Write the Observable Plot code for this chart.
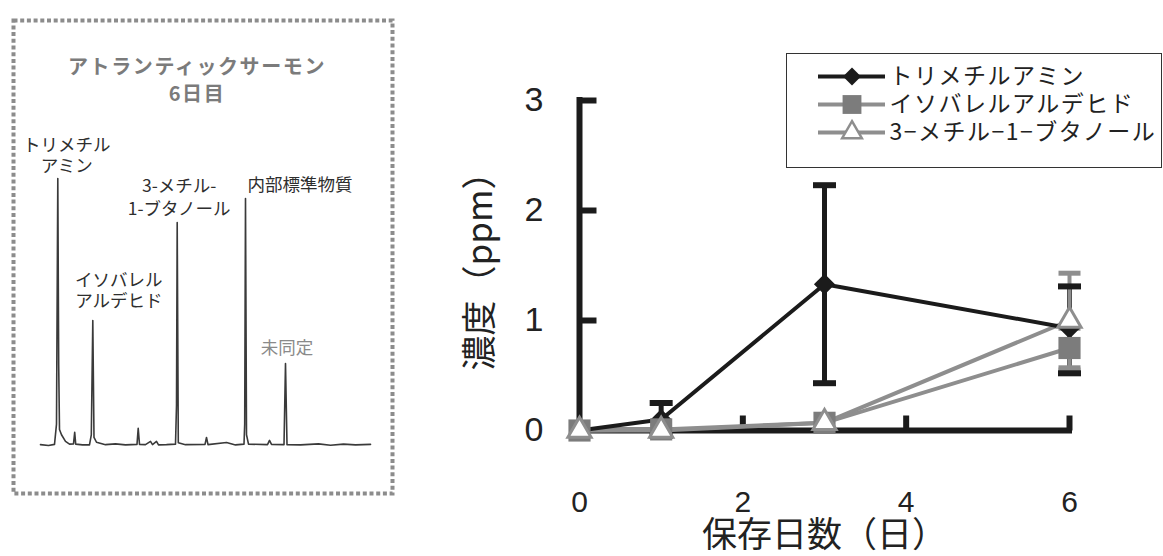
<!DOCTYPE html>
<html><head><meta charset="utf-8">
<script src="https://cdn.jsdelivr.net/npm/d3@7"></script>
<script src="https://cdn.jsdelivr.net/npm/@observablehq/plot@0.6"></script>
<style>
html,body{margin:0;padding:0;background:#fff;}
#wrap{position:relative;width:1163px;height:556px;overflow:hidden;background:#fff;}
#wrap > *{position:absolute;}
</style></head><body><div id="wrap"></div>
<script>
// ---------- Left panel: chromatogram (day 6, Atlantic salmon) ----------
const chromTitle = "アトランティックサーモン\n6日目";
const traceTime   = [0, 0.8, 1.4, 1.6, 1.73, 1.82, 1.9, 2.1, 2.5, 2.9, 3.3, 3.42, 3.52, 4.2, 4.9, 5.08, 5.23, 5.35, 5.6, 6.5, 7.5, 8.5, 9.65, 9.77, 9.9, 10.5, 11.0, 11.2, 11.6, 11.8, 12.6, 13.5, 13.6, 13.67, 13.78, 14.5, 16.45, 16.6, 16.75, 18.6, 19.5, 20.35, 20.42, 20.5, 20.6, 20.8, 22.7, 22.9, 23.1, 24.35, 24.5, 24.65, 26, 27.8, 29, 30.3, 31.5, 33];
const traceSignal = [0.3, 0, 0.4, 8, 100, 30, 6, 4, 1.5, 0.5, 0.6, 4.9, 0.5, 0.2, 0.2, 4, 46.8, 3, 1.2, 0.3, 0.6, 0.2, 0.4, 6.4, 0.4, 0.3, 1.5, 0.3, 1.5, 0.2, 0.3, 0.5, 15, 83.5, 1, 0.3, 0.4, 3, 0.3, 1.1, 0.2, 0.5, 8, 92.5, 4, 0.5, 0.3, 1.9, 0.4, 0.3, 30.7, 0.3, 0.2, 0.6, 0.1, 0.5, 0.2, 0.4];
const peakNames  = ["トリメチル\nアミン", "イソバレル\nアルデヒド", "3-メチル-\n1-ブタノール", "内部標準物質", "未同定"];
const peakTime   = [1.73, 5.23, 13.67, 20.5, 24.5];
const peakHeight = [100, 46.8, 83.5, 92.5, 30.7];

// ---------- Right panel: concentration vs storage days ----------
const seriesNames = ["トリメチルアミン", "イソバレルアルデヒド", "3−メチル−1−ブタノール"];
const days = [0, 1, 3, 6];
const tmaMean = [0, 0.10, 1.33, 0.93];
const tmaLo   = [0, -0.05, 0.43, 0.52];
const tmaHi   = [0, 0.25, 2.23, 1.31];
const ivaMean = [0, 0.01, 0.07, 0.75];
const ivaLo   = [0, 0.01, 0.07, 0.57];
const ivaHi   = [0, 0.01, 0.07, 0.93];
const mbMean  = [0, 0.00, 0.07, 1.00];
const mbLo    = [0, 0.00, 0.07, 0.55];
const mbHi    = [0, 0.00, 0.07, 1.43];
const xTicks = [0, 2, 4, 6];
const yTicks = [0, 1, 2, 3];
const xLabel = "保存日数（日）";
const yLabel = "濃度（ppm）";

// ---------- styles ----------
const BLACK = "#1b1b1b", GRAY = "#8e8e8e", SQFILL = "#7c7c7c";
const seriesStroke = [BLACK, GRAY, GRAY];
const seriesFill = [BLACK, SQFILL, "#ffffff"];
const seriesSymbol = ["diamond2", "square", "triangle"];
const seriesR = [9.5, 12.5, 8.6];
const jp = "'Noto Sans CJK JP', 'Noto Sans', sans-serif";
const lat = "'Liberation Sans', Arial, sans-serif";

// custom symbols (stroke-only line shapes)
const tickRight = {draw(c, s) { const l = Math.sqrt(s / Math.PI); c.moveTo(0, 0); c.lineTo(l, 0); }};
const tickUp    = {draw(c, s) { const l = Math.sqrt(s / Math.PI); c.moveTo(0, 0); c.lineTo(0, -l); }};
const capSym    = {draw(c, s) { const l = Math.sqrt(s / Math.PI); c.moveTo(-l, 0); c.lineTo(l, 0); }};

const wrap = document.getElementById("wrap");

// ===== chromatogram =====
const trace = traceTime.map((t, i) => ({t, s: traceSignal[i]}));
const peaks = peakNames.map((name, i) => ({name, t: peakTime[i], h: peakHeight[i]}));
const labelStyle = [
  {dx: 9, dy: -7, textAnchor: "middle", lineHeight: 1.17, fill: "#2e2e2e"},
  {dx: 26, dy: -14, textAnchor: "middle", lineHeight: 1.17, fill: "#2e2e2e"},
  {dx: 2, dy: -8, textAnchor: "middle", lineHeight: 1.3, fill: "#2e2e2e"},
  {dx: 2, dy: -8, textAnchor: "start", lineHeight: 1.17, fill: "#2e2e2e"},
  {dx: 1.5, dy: -10, textAnchor: "middle", lineHeight: 1.17, fill: "#8a8a8a"}
];

const chrom = Plot.plot({
  width: 405, height: 500,
  marginLeft: 13, marginRight: 13, marginTop: 20, marginBottom: 7,
  x: {domain: [-2.7, 35.2], axis: null},
  y: {domain: [-18, 159.2], axis: null},
  style: {background: "transparent", fontFamily: jp},
  marks: [
    Plot.frame({stroke: "#8c8c8c", strokeWidth: 4, strokeDasharray: "4 2.7"}),
    Plot.line(trace, {x: "t", y: "s", stroke: "#3a3a3a", strokeWidth: 1.6}),
    Plot.text([chromTitle], {frameAnchor: "top", text: d => d, dx: -6, dy: 58.5, lineAnchor: "middle",
      fontSize: 20, fontWeight: "bold", fill: "#7b7b7b", lineHeight: 1.35}),
    ...peaks.map((p, i) => Plot.text([p], {x: "t", y: "h", text: "name", lineAnchor: "bottom",
      fontSize: 17.5, ...labelStyle[i]}))
  ]
});
chrom.style.left = "0px"; chrom.style.top = "0px";
chrom.querySelectorAll("text").forEach(t => {
  if (t.textContent.includes("サーモン")) t.style.letterSpacing = "1.6px";
});
wrap.appendChild(chrom);

// ===== line chart =====
const means = [tmaMean, ivaMean, mbMean], los = [tmaLo, ivaLo, mbLo], his = [tmaHi, ivaHi, mbHi];
const rows = [];
seriesNames.forEach((s, k) => days.forEach((d, i) => rows.push({series: s, k, day: d, mean: means[k][i], lo: los[k][i], hi: his[k][i]})));
const bySeries = k => rows.filter(r => r.k === k);
const withErr = k => rows.filter(r => r.k === k && r.hi > r.mean);

const chart = Plot.plot({
  width: 723, height: 556,
  marginLeft: 139, marginRight: 94, marginTop: 100, marginBottom: 126,
  x: {domain: [xTicks[0], xTicks[xTicks.length - 1]], axis: null, label: null},
  y: {domain: [yTicks[0], yTicks[yTicks.length - 1]], axis: null, label: null},
  style: {background: "transparent", fontFamily: jp, color: "#222"},
  marks: [
    Plot.axisY(yTicks, {tickSize: 0, tickPadding: 36, fontSize: 34, fontFamily: lat, label: null, tickFormat: d => String(d)}),
    Plot.axisX(xTicks, {tickSize: 0, tickPadding: 60, fontSize: 30, fontFamily: lat, label: null, tickFormat: d => String(d)}),
    Plot.text([yLabel], {frameAnchor: "left", text: d => d, rotate: -90, textAnchor: "middle", lineAnchor: "middle", dx: -99, dy: -3, fontSize: 35, fill: "#222"}),
    Plot.text([xLabel], {frameAnchor: "bottom", text: d => d, textAnchor: "middle", dy: 105, lineAnchor: "middle", fontSize: 35, fill: "#222"}),
    // axes lines and inward ticks
    Plot.ruleX([xTicks[0]], {x: d => d, y1: yTicks[0], y2: yTicks[yTicks.length - 1], stroke: BLACK, strokeWidth: 6, strokeLinecap: "square"}),
    Plot.ruleY([yTicks[0]], {y: d => d, x1: xTicks[0], x2: xTicks[xTicks.length - 1], stroke: BLACK, strokeWidth: 6, strokeLinecap: "square"}),
    Plot.dot(yTicks.slice(1), {x: () => xTicks[0], y: d => d, symbol: tickRight, r: 17, stroke: BLACK, strokeWidth: 6, fill: "none"}),
    Plot.dot(xTicks.slice(1), {x: d => d, y: () => yTicks[0], symbol: tickUp, r: 15, stroke: BLACK, strokeWidth: 6, fill: "none"}),
    // error bars
    Plot.ruleX(withErr(0), {x: "day", y1: "lo", y2: "hi", stroke: BLACK, strokeWidth: 5}),
    Plot.ruleX(withErr(1).concat(withErr(2)), {x: "day", y1: "lo", y2: "hi", stroke: GRAY, strokeWidth: 4}),
    Plot.dot(withErr(1).concat(withErr(2)), {x: "day", y: "hi", symbol: capSym, r: 11, stroke: GRAY, strokeWidth: 5, fill: "none"}),
    Plot.dot(withErr(1).concat(withErr(2)), {x: "day", y: "lo", symbol: capSym, r: 11, stroke: GRAY, strokeWidth: 5, fill: "none"}),
    Plot.dot(withErr(0), {x: "day", y: "hi", symbol: capSym, r: 11.5, stroke: BLACK, strokeWidth: 6, fill: "none"}),
    Plot.dot(withErr(0), {x: "day", y: "lo", symbol: capSym, r: 11.5, stroke: BLACK, strokeWidth: 6, fill: "none"}),
    // lines
    Plot.line(bySeries(2), {x: "day", y: "mean", stroke: GRAY, strokeWidth: 4}),
    Plot.line(bySeries(1), {x: "day", y: "mean", stroke: GRAY, strokeWidth: 4}),
    Plot.line(bySeries(0), {x: "day", y: "mean", stroke: BLACK, strokeWidth: 4}),
    // markers
    Plot.dot(bySeries(0), {x: "day", y: "mean", symbol: seriesSymbol[0], r: seriesR[0], fill: seriesFill[0], stroke: "none"}),
    Plot.dot(bySeries(1), {x: "day", y: "mean", symbol: seriesSymbol[1], r: seriesR[1], fill: seriesFill[1], stroke: "none"}),
    Plot.dot(bySeries(2), {x: "day", y: "mean", symbol: seriesSymbol[2], r: seriesR[2], fill: seriesFill[2], stroke: GRAY, strokeWidth: 3})
  ]
});
chart.style.left = "440px"; chart.style.top = "0px";
wrap.appendChild(chart);

// ===== legend =====
const legendBox = document.createElement("div");
legendBox.style.cssText = "left:786px;top:53px;width:374px;height:113px;border:1.5px solid #333;background:#fff;";
const legend = Plot.plot({
  width: 374, height: 113,
  marginLeft: 31, marginRight: 276, marginTop: 22, marginBottom: 35,
  x: {domain: [0, 1], axis: null},
  y: {domain: seriesNames, type: "point", padding: 0, axis: null},
  style: {background: "transparent", fontFamily: jp, color: "#222", letterSpacing: "1.5px"},
  marks: [
    ...seriesNames.map((s, k) => Plot.ruleY([s], {y: d => d, x1: 0, x2: 1, stroke: seriesStroke[k], strokeWidth: 4})),
    ...seriesNames.map((s, k) => Plot.dot([s], {x: () => 0.5, y: d => d, symbol: seriesSymbol[k], r: seriesR[k] * 0.85,
      fill: seriesFill[k], stroke: k === 2 ? GRAY : "none", strokeWidth: 2.5})),
    Plot.text(seriesNames, {x: () => 1, y: d => d, text: d => d, textAnchor: "start", dx: 4, fontSize: 23, fill: "#222"})
  ]
});
legend.style.position = "absolute"; legend.style.left = "0px"; legend.style.top = "0px";
legendBox.appendChild(legend);
wrap.appendChild(legendBox);
</script></body></html>
